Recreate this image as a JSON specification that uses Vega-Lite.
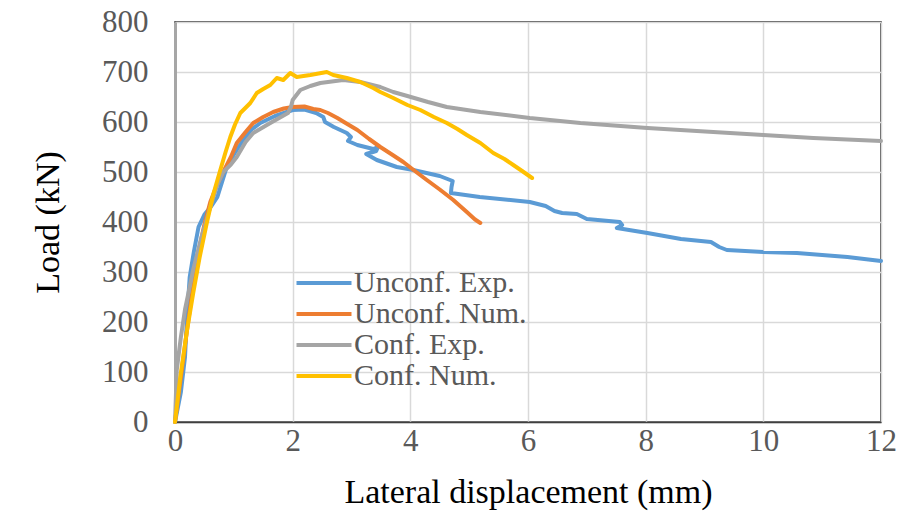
{
  "$schema": "https://vega.github.io/schema/vega-lite/v6.json",
  "width": 706,
  "height": 400,
  "autosize": "none",
  "padding": {"left": 175, "top": 22, "right": 24, "bottom": 98},
  "background": "white",
  "config": {
    "view": {"stroke": "#1a1a1a", "strokeWidth": 1.5},
    "font": "Liberation Serif, Times New Roman, serif",
    "axis": {"labelFont": "Liberation Serif, Times New Roman, serif", "titleFont": "Liberation Serif, Times New Roman, serif"},
    "legend": {"labelFont": "Liberation Serif, Times New Roman, serif"}
  },
  "data": {
    "values": [
      {"s":"Unconf. Exp.","i":0,"x":0,"y":0},
      {"s":"Unconf. Exp.","i":1,"x":0.1,"y":60},
      {"s":"Unconf. Exp.","i":2,"x":0.17,"y":130},
      {"s":"Unconf. Exp.","i":3,"x":0.2,"y":200},
      {"s":"Unconf. Exp.","i":4,"x":0.25,"y":290},
      {"s":"Unconf. Exp.","i":5,"x":0.32,"y":340},
      {"s":"Unconf. Exp.","i":6,"x":0.4,"y":390},
      {"s":"Unconf. Exp.","i":7,"x":0.5,"y":415},
      {"s":"Unconf. Exp.","i":8,"x":0.62,"y":432},
      {"s":"Unconf. Exp.","i":9,"x":0.72,"y":450},
      {"s":"Unconf. Exp.","i":10,"x":0.8,"y":480},
      {"s":"Unconf. Exp.","i":11,"x":0.88,"y":510},
      {"s":"Unconf. Exp.","i":12,"x":1.0,"y":535},
      {"s":"Unconf. Exp.","i":13,"x":1.16,"y":564},
      {"s":"Unconf. Exp.","i":14,"x":1.3,"y":585},
      {"s":"Unconf. Exp.","i":15,"x":1.45,"y":598},
      {"s":"Unconf. Exp.","i":16,"x":1.7,"y":612},
      {"s":"Unconf. Exp.","i":17,"x":2.0,"y":624},
      {"s":"Unconf. Exp.","i":18,"x":2.2,"y":625},
      {"s":"Unconf. Exp.","i":19,"x":2.4,"y":618},
      {"s":"Unconf. Exp.","i":20,"x":2.52,"y":610},
      {"s":"Unconf. Exp.","i":21,"x":2.55,"y":600},
      {"s":"Unconf. Exp.","i":22,"x":2.7,"y":590},
      {"s":"Unconf. Exp.","i":23,"x":2.92,"y":578},
      {"s":"Unconf. Exp.","i":24,"x":2.99,"y":570},
      {"s":"Unconf. Exp.","i":25,"x":2.94,"y":562},
      {"s":"Unconf. Exp.","i":26,"x":3.1,"y":554},
      {"s":"Unconf. Exp.","i":27,"x":3.37,"y":546},
      {"s":"Unconf. Exp.","i":28,"x":3.45,"y":550},
      {"s":"Unconf. Exp.","i":29,"x":3.42,"y":542},
      {"s":"Unconf. Exp.","i":30,"x":3.25,"y":536},
      {"s":"Unconf. Exp.","i":31,"x":3.43,"y":524},
      {"s":"Unconf. Exp.","i":32,"x":3.77,"y":510},
      {"s":"Unconf. Exp.","i":33,"x":4.05,"y":504},
      {"s":"Unconf. Exp.","i":34,"x":4.5,"y":492},
      {"s":"Unconf. Exp.","i":35,"x":4.72,"y":482},
      {"s":"Unconf. Exp.","i":36,"x":4.7,"y":470},
      {"s":"Unconf. Exp.","i":37,"x":4.69,"y":458},
      {"s":"Unconf. Exp.","i":38,"x":5.18,"y":450},
      {"s":"Unconf. Exp.","i":39,"x":6.03,"y":440},
      {"s":"Unconf. Exp.","i":40,"x":6.3,"y":432},
      {"s":"Unconf. Exp.","i":41,"x":6.45,"y":422},
      {"s":"Unconf. Exp.","i":42,"x":6.58,"y":418},
      {"s":"Unconf. Exp.","i":43,"x":6.83,"y":416},
      {"s":"Unconf. Exp.","i":44,"x":7.0,"y":406},
      {"s":"Unconf. Exp.","i":45,"x":7.56,"y":400},
      {"s":"Unconf. Exp.","i":46,"x":7.6,"y":394},
      {"s":"Unconf. Exp.","i":47,"x":7.51,"y":388},
      {"s":"Unconf. Exp.","i":48,"x":8.03,"y":378},
      {"s":"Unconf. Exp.","i":49,"x":8.6,"y":366},
      {"s":"Unconf. Exp.","i":50,"x":9.11,"y":360},
      {"s":"Unconf. Exp.","i":51,"x":9.25,"y":350},
      {"s":"Unconf. Exp.","i":52,"x":9.38,"y":344},
      {"s":"Unconf. Exp.","i":53,"x":10.0,"y":340},
      {"s":"Unconf. Exp.","i":54,"x":10.57,"y":338},
      {"s":"Unconf. Exp.","i":55,"x":11.43,"y":330},
      {"s":"Unconf. Exp.","i":56,"x":12.0,"y":322},

      {"s":"Unconf. Num.","i":0,"x":0,"y":0},
      {"s":"Unconf. Num.","i":1,"x":0.1,"y":90},
      {"s":"Unconf. Num.","i":2,"x":0.2,"y":180},
      {"s":"Unconf. Num.","i":3,"x":0.3,"y":265},
      {"s":"Unconf. Num.","i":4,"x":0.4,"y":340},
      {"s":"Unconf. Num.","i":5,"x":0.5,"y":395},
      {"s":"Unconf. Num.","i":6,"x":0.6,"y":440},
      {"s":"Unconf. Num.","i":7,"x":0.7,"y":470},
      {"s":"Unconf. Num.","i":8,"x":0.82,"y":500},
      {"s":"Unconf. Num.","i":9,"x":0.95,"y":530},
      {"s":"Unconf. Num.","i":10,"x":1.05,"y":558},
      {"s":"Unconf. Num.","i":11,"x":1.2,"y":580},
      {"s":"Unconf. Num.","i":12,"x":1.33,"y":598},
      {"s":"Unconf. Num.","i":13,"x":1.5,"y":610},
      {"s":"Unconf. Num.","i":14,"x":1.67,"y":620},
      {"s":"Unconf. Num.","i":15,"x":1.85,"y":627},
      {"s":"Unconf. Num.","i":16,"x":2.0,"y":630},
      {"s":"Unconf. Num.","i":17,"x":2.2,"y":631},
      {"s":"Unconf. Num.","i":18,"x":2.35,"y":626},
      {"s":"Unconf. Num.","i":19,"x":2.47,"y":624},
      {"s":"Unconf. Num.","i":20,"x":2.6,"y":618},
      {"s":"Unconf. Num.","i":21,"x":2.76,"y":608},
      {"s":"Unconf. Num.","i":22,"x":2.9,"y":598},
      {"s":"Unconf. Num.","i":23,"x":3.1,"y":584},
      {"s":"Unconf. Num.","i":24,"x":3.3,"y":566},
      {"s":"Unconf. Num.","i":25,"x":3.49,"y":550},
      {"s":"Unconf. Num.","i":26,"x":3.7,"y":534},
      {"s":"Unconf. Num.","i":27,"x":3.88,"y":520},
      {"s":"Unconf. Num.","i":28,"x":4.1,"y":500},
      {"s":"Unconf. Num.","i":29,"x":4.28,"y":484},
      {"s":"Unconf. Num.","i":30,"x":4.5,"y":465},
      {"s":"Unconf. Num.","i":31,"x":4.73,"y":444},
      {"s":"Unconf. Num.","i":32,"x":4.96,"y":420},
      {"s":"Unconf. Num.","i":33,"x":5.1,"y":405},
      {"s":"Unconf. Num.","i":34,"x":5.19,"y":398},

      {"s":"Conf. Exp.","i":0,"x":0,"y":0},
      {"s":"Conf. Exp.","i":1,"x":0.03,"y":104},
      {"s":"Conf. Exp.","i":2,"x":0.1,"y":170},
      {"s":"Conf. Exp.","i":3,"x":0.17,"y":225},
      {"s":"Conf. Exp.","i":4,"x":0.25,"y":270},
      {"s":"Conf. Exp.","i":5,"x":0.31,"y":305},
      {"s":"Conf. Exp.","i":6,"x":0.45,"y":370},
      {"s":"Conf. Exp.","i":7,"x":0.6,"y":430},
      {"s":"Conf. Exp.","i":8,"x":0.72,"y":475},
      {"s":"Conf. Exp.","i":9,"x":0.82,"y":500},
      {"s":"Conf. Exp.","i":10,"x":0.95,"y":515},
      {"s":"Conf. Exp.","i":11,"x":1.05,"y":530},
      {"s":"Conf. Exp.","i":12,"x":1.2,"y":560},
      {"s":"Conf. Exp.","i":13,"x":1.33,"y":578},
      {"s":"Conf. Exp.","i":14,"x":1.62,"y":598},
      {"s":"Conf. Exp.","i":15,"x":1.92,"y":618},
      {"s":"Conf. Exp.","i":16,"x":1.97,"y":630},
      {"s":"Conf. Exp.","i":17,"x":2.0,"y":644},
      {"s":"Conf. Exp.","i":18,"x":2.13,"y":664},
      {"s":"Conf. Exp.","i":19,"x":2.3,"y":672},
      {"s":"Conf. Exp.","i":20,"x":2.47,"y":678},
      {"s":"Conf. Exp.","i":21,"x":2.86,"y":684},
      {"s":"Conf. Exp.","i":22,"x":3.15,"y":680},
      {"s":"Conf. Exp.","i":23,"x":3.49,"y":670},
      {"s":"Conf. Exp.","i":24,"x":3.71,"y":660},
      {"s":"Conf. Exp.","i":25,"x":3.95,"y":652},
      {"s":"Conf. Exp.","i":26,"x":4.3,"y":640},
      {"s":"Conf. Exp.","i":27,"x":4.62,"y":630},
      {"s":"Conf. Exp.","i":28,"x":5.19,"y":620},
      {"s":"Conf. Exp.","i":29,"x":6.03,"y":608},
      {"s":"Conf. Exp.","i":30,"x":6.89,"y":598},
      {"s":"Conf. Exp.","i":31,"x":8.03,"y":588},
      {"s":"Conf. Exp.","i":32,"x":9.15,"y":580},
      {"s":"Conf. Exp.","i":33,"x":10.0,"y":574},
      {"s":"Conf. Exp.","i":34,"x":10.85,"y":568},
      {"s":"Conf. Exp.","i":35,"x":12.0,"y":562},

      {"s":"Conf. Num.","i":0,"x":0,"y":0},
      {"s":"Conf. Num.","i":1,"x":0.09,"y":90},
      {"s":"Conf. Num.","i":2,"x":0.2,"y":180},
      {"s":"Conf. Num.","i":3,"x":0.31,"y":258},
      {"s":"Conf. Num.","i":4,"x":0.42,"y":330},
      {"s":"Conf. Num.","i":5,"x":0.54,"y":398},
      {"s":"Conf. Num.","i":6,"x":0.65,"y":455},
      {"s":"Conf. Num.","i":7,"x":0.77,"y":504},
      {"s":"Conf. Num.","i":8,"x":0.86,"y":540},
      {"s":"Conf. Num.","i":9,"x":0.94,"y":570},
      {"s":"Conf. Num.","i":10,"x":1.02,"y":595},
      {"s":"Conf. Num.","i":11,"x":1.11,"y":618},
      {"s":"Conf. Num.","i":12,"x":1.28,"y":638},
      {"s":"Conf. Num.","i":13,"x":1.39,"y":658},
      {"s":"Conf. Num.","i":14,"x":1.5,"y":666},
      {"s":"Conf. Num.","i":15,"x":1.62,"y":674},
      {"s":"Conf. Num.","i":16,"x":1.73,"y":688},
      {"s":"Conf. Num.","i":17,"x":1.84,"y":684},
      {"s":"Conf. Num.","i":18,"x":1.96,"y":698},
      {"s":"Conf. Num.","i":19,"x":2.07,"y":690},
      {"s":"Conf. Num.","i":20,"x":2.3,"y":694},
      {"s":"Conf. Num.","i":21,"x":2.58,"y":700},
      {"s":"Conf. Num.","i":22,"x":2.69,"y":694},
      {"s":"Conf. Num.","i":23,"x":2.92,"y":688},
      {"s":"Conf. Num.","i":24,"x":3.15,"y":680},
      {"s":"Conf. Num.","i":25,"x":3.37,"y":668},
      {"s":"Conf. Num.","i":26,"x":3.49,"y":660},
      {"s":"Conf. Num.","i":27,"x":3.71,"y":648},
      {"s":"Conf. Num.","i":28,"x":3.95,"y":634},
      {"s":"Conf. Num.","i":29,"x":4.17,"y":624},
      {"s":"Conf. Num.","i":30,"x":4.4,"y":610},
      {"s":"Conf. Num.","i":31,"x":4.62,"y":598},
      {"s":"Conf. Num.","i":32,"x":4.8,"y":586},
      {"s":"Conf. Num.","i":33,"x":4.96,"y":574},
      {"s":"Conf. Num.","i":34,"x":5.19,"y":558},
      {"s":"Conf. Num.","i":35,"x":5.41,"y":538},
      {"s":"Conf. Num.","i":36,"x":5.6,"y":526},
      {"s":"Conf. Num.","i":37,"x":5.75,"y":514},
      {"s":"Conf. Num.","i":38,"x":5.9,"y":502},
      {"s":"Conf. Num.","i":39,"x":6.07,"y":488}
    ]
  },
  "mark": {"type": "line", "strokeWidth": 4, "strokeCap": "round", "strokeJoin": "round"},
  "encoding": {
    "x": {
      "field": "x", "type": "quantitative",
      "scale": {"domain": [0, 12], "nice": false},
      "axis": {
        "title": "Lateral displacement (mm)",
        "values": [0, 2, 4, 6, 8, 10, 12],
        "grid": true, "gridColor": "#d9d9d9", "gridWidth": 1.5,
        "ticks": false, "domain": true, "domainColor": "#404040", "domainWidth": 1.5,
        "labelFontSize": 31, "labelColor": "#595959", "labelPadding": 4,
        "labelFlush": false,
        "titleFontSize": 34, "titleFontWeight": "normal", "titleColor": "#000000", "titlePadding": 19
      }
    },
    "y": {
      "field": "y", "type": "quantitative",
      "scale": {"domain": [0, 800], "nice": false},
      "axis": {
        "title": "Load (kN)",
        "values": [0, 100, 200, 300, 400, 500, 600, 700, 800],
        "grid": true, "gridColor": "#d9d9d9", "gridWidth": 1.5,
        "ticks": false, "domain": true, "domainColor": "#a6a6a6", "domainWidth": 3,
        "labelFontSize": 31, "labelColor": "#595959", "labelPadding": 27,
        "labelFlush": false,
        "titleFontSize": 34, "titleFontWeight": "normal", "titleColor": "#000000", "titlePadding": 36
      }
    },
    "color": {
      "field": "s", "type": "nominal",
      "scale": {
        "domain": ["Unconf. Exp.", "Unconf. Num.", "Conf. Exp.", "Conf. Num."],
        "range": ["#5b9bd5", "#ed7d31", "#a5a5a5", "#ffc000"]
      },
      "legend": {
        "title": null,
        "orient": "none",
        "legendX": 133,
        "legendY": 245,
        "symbolType": "M-2,0H2",
        "symbolSize": 756,
        "symbolStrokeWidth": 4,
        "labelFontSize": 30,
        "labelColor": "#595959",
        "labelOffset": 14,
        "rowPadding": 0,
        "labelLimit": 400
      }
    },
    "order": {"field": "i", "type": "quantitative"}
  }
}
